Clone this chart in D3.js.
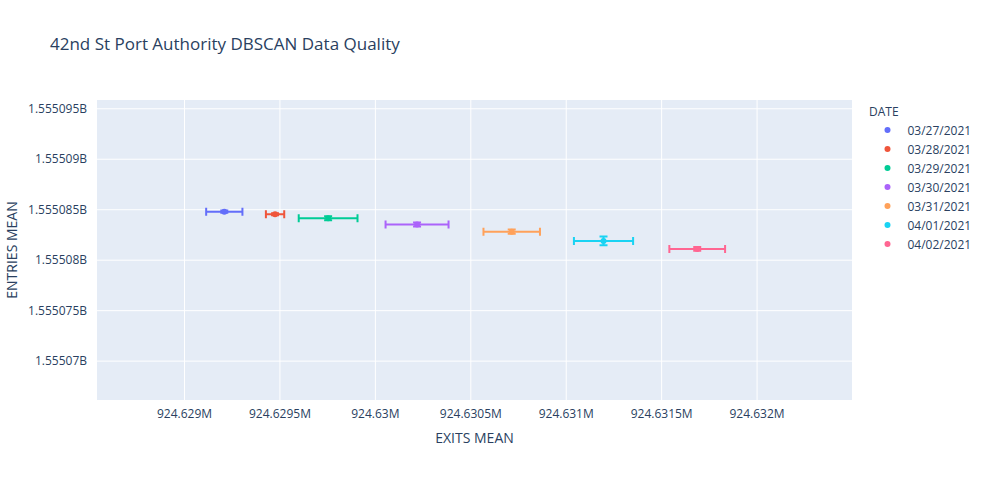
<!DOCTYPE html>
<html>
<head>
<meta charset="utf-8">
<script src="https://cdn.jsdelivr.net/npm/d3@7"></script>
<style>
  body { margin: 0; background: #fff; }
  text { font-family: "Open Sans", "Noto Sans", sans-serif; fill: #2a3f5f; }
</style>
</head>
<body>
<div id="chart"></div>
<script>
// data
let dates = ["03/27/2021", "03/28/2021", "03/29/2021", "03/30/2021", "03/31/2021", "04/01/2021", "04/02/2021"];
let exits_mean = [924629211, 924629477, 924629755, 924630221, 924630717, 924631198, 924631689];
let exits_err = [95, 48, 154, 165, 148, 155, 146];
let entries_mean = [1555084.76, 1555084.5, 1555084.11, 1555083.48, 1555082.78, 1555081.86, 1555081.07];
let entries_err = [0.12, 0.1, 0.2, 0.2, 0.2, 0.43, 0.18];
let colors = ["#636efa", "#EF553B", "#00cc96", "#ab63fa", "#FFA15A", "#19d3f3", "#FF6692"];

let x_ticks = [924629000, 924629500, 924630000, 924630500, 924631000, 924631500, 924632000];
let x_tick_labels = ["924.629M", "924.6295M", "924.63M", "924.6305M", "924.631M", "924.6315M", "924.632M"];
let y_ticks = [1555070, 1555075, 1555080, 1555085, 1555090, 1555095];
let y_tick_labels = ["1.55507B", "1.555075B", "1.55508B", "1.555085B", "1.55509B", "1.555095B"];

let width = 988, height = 481;
let margin = {left: 97, right: 136, top: 100, bottom: 81};

let svg = d3.select("#chart").append("svg")
    .attr("width", width)
    .attr("height", height);

let x = d3.scaleLinear()
    .domain([924628544, 924632500])
    .range([margin.left, width - margin.right]);

let y = d3.scaleLinear()
    .domain([1555066.1, 1555095.82])
    .range([height - margin.bottom, margin.top]);

svg.append("rect")
    .attr("x", margin.left)
    .attr("y", margin.top)
    .attr("width", width - margin.left - margin.right)
    .attr("height", height - margin.top - margin.bottom)
    .attr("fill", "#E5ECF6");

// axes
let xAxis = d3.axisBottom(x)
    .tickValues(x_ticks)
    .tickFormat((d, i) => x_tick_labels[i])
    .tickSize(-(height - margin.top - margin.bottom))
    .tickPadding(9);

let yAxis = d3.axisLeft(y)
    .tickValues(y_ticks)
    .tickFormat((d, i) => y_tick_labels[i])
    .tickSize(-(width - margin.left - margin.right))
    .tickPadding(10);

let gx = svg.append("g")
    .attr("transform", "translate(0," + (height - margin.bottom) + ")")
    .call(xAxis);
let gy = svg.append("g")
    .attr("transform", "translate(" + margin.left + ",0)")
    .call(yAxis);

[gx, gy].forEach(g => {
    g.select(".domain").remove();
    g.selectAll(".tick line").attr("stroke", "#fff").attr("stroke-width", 1);
    g.selectAll(".tick text").attr("font-size", 12).style("fill", "#2a3f5f")
        .attr("font-family", "'Open Sans', 'Noto Sans', sans-serif");
});

// error bars + markers
let pts = d3.range(dates.length).map(i => ({
    date: dates[i], x: exits_mean[i], ex: exits_err[i],
    y: entries_mean[i], ey: entries_err[i], c: colors[i]
}));

let cap = 4;
let g = svg.append("g");
let series = g.selectAll("g.pt")
    .data(pts)
    .join("g")
        .attr("class", "pt");

// x error bars
series.append("path")
    .attr("d", d => {
        let x0 = x(d.x - d.ex), x1 = x(d.x + d.ex), yy = y(d.y);
        return "M" + x0 + "," + yy + "H" + x1 +
            "M" + x0 + "," + (yy - cap) + "V" + (yy + cap) +
            "M" + x1 + "," + (yy - cap) + "V" + (yy + cap);
    })
    .attr("stroke", d => d.c)
    .attr("stroke-width", 2)
    .attr("fill", "none");

// y error bars
series.append("path")
    .attr("d", d => {
        let y0 = y(d.y - d.ey), y1 = y(d.y + d.ey), xx = x(d.x);
        return "M" + xx + "," + y0 + "V" + y1 +
            "M" + (xx - cap) + "," + y0 + "H" + (xx + cap) +
            "M" + (xx - cap) + "," + y1 + "H" + (xx + cap);
    })
    .attr("stroke", d => d.c)
    .attr("stroke-width", 2)
    .attr("fill", "none");

series.append("circle")
    .attr("cx", d => x(d.x))
    .attr("cy", d => y(d.y))
    .attr("r", 3)
    .attr("fill", d => d.c);

// titles
svg.append("text")
    .attr("x", 50)
    .attr("y", 50)
    .attr("font-size", 17)
    .text("42nd St Port Authority DBSCAN Data Quality");

svg.append("text")
    .attr("x", (margin.left + width - margin.right) / 2)
    .attr("y", 443)
    .attr("text-anchor", "middle")
    .attr("font-size", 14)
    .text("EXITS MEAN");

svg.append("text")
    .attr("transform", "translate(17," + ((margin.top + height - margin.bottom) / 2) + ") rotate(-90)")
    .attr("text-anchor", "middle")
    .attr("font-size", 14)
    .text("ENTRIES MEAN");

// legend
let legend = svg.append("g").attr("transform", "translate(869,0)");
legend.append("text")
    .attr("x", 0)
    .attr("y", 116)
    .attr("font-size", 12)
    .text("DATE");

let items = legend.selectAll("g.item")
    .data(pts)
    .join("g")
        .attr("class", "item")
        .attr("transform", (d, i) => "translate(0," + (130 + i * 19) + ")");
items.append("circle")
    .attr("cx", 18.5)
    .attr("cy", 0)
    .attr("r", 3)
    .attr("fill", d => d.c);
items.append("text")
    .attr("x", 38.5)
    .attr("y", 4.5)
    .attr("font-size", 12)
    .text(d => d.date);
</script>
</body>
</html>
